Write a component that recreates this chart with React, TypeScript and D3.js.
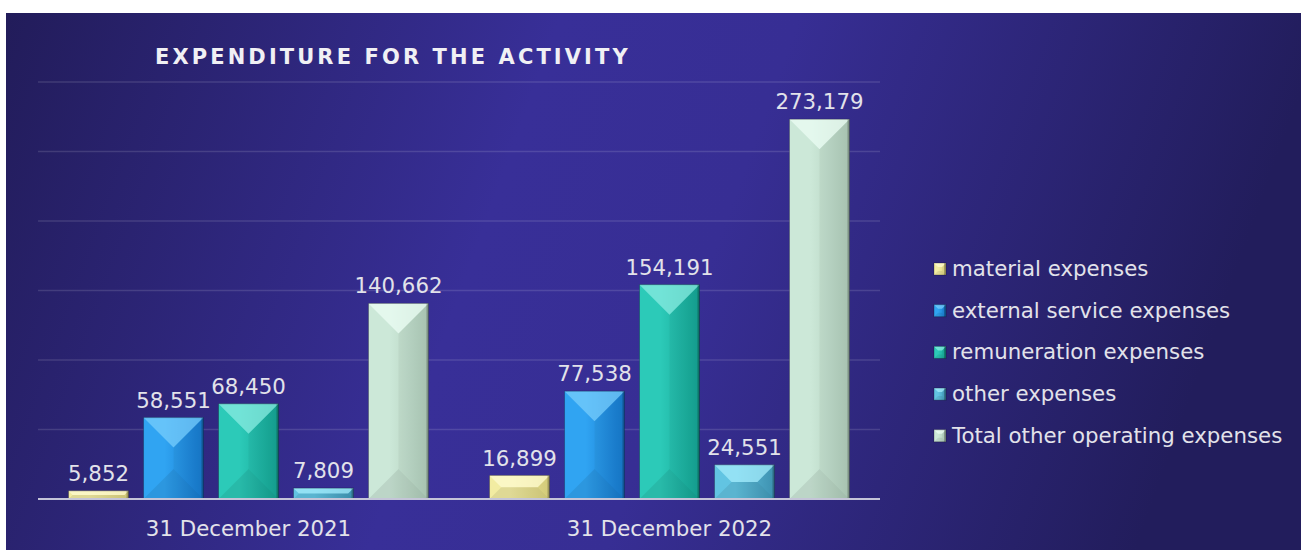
import React from "react";
import * as d3 from "d3";

const categories = ["31 December 2021", "31 December 2022"];
const seriesNames = [
  "material expenses",
  "external service expenses",
  "remuneration expenses",
  "other expenses",
  "Total other operating expenses",
];
const material = [5852, 16899];
const external = [58551, 77538];
const remuneration = [68450, 154191];
const other = [7809, 24551];
const total = [140662, 273179];
const yTicks = [0, 50000, 100000, 150000, 200000, 250000, 300000];

const seriesValues = [material, external, remuneration, other, total];
const palette = [
  { light: "#f2eca2", dark: "#dcd47e", top: "#fffcd4" },
  { light: "#30a4f2", dark: "#1678cc", top: "#7cd0fc" },
  { light: "#2ccab8", dark: "#14a292", top: "#90eee4" },
  { light: "#62c4e2", dark: "#4098b8", top: "#a8eefc" },
  { light: "#cce8d8", dark: "#aecbb8", top: "#eefff6" },
];

const W = 1301;
const H = 550;
const FONT = "Verdana, 'DejaVu Sans', sans-serif";
const FS = 21.3;

function Bevel({ x, y, w, h, i, maxD = 30 }: { x: number; y: number; w: number; h: number; i: number; maxD?: number }) {
  const d = Math.max(0, Math.min(w / 2, h / 2, maxD));
  const p = (pts: number[][]) => pts.map((q) => q.join(",")).join(" ");
  return (
    <g>
      <rect x={x} y={y} width={w} height={h} fill={`url(#face${i})`} />
      <polygon points={p([[x, y], [x + w, y], [x + w - d, y + d], [x + d, y + d]])} fill={palette[i].top} opacity={0.7} />
      <polygon points={p([[x, y + h], [x + w, y + h], [x + w - d, y + h - d], [x + d, y + h - d]])} fill="#000" opacity={0.08} />
      <polygon points={p([[x + w, y], [x + w - d, y + d], [x + w - d, y + h - d], [x + w, y + h]])} fill="#000" opacity={0.04} />
      <rect x={x + w - 2} y={y} width={2} height={h} fill="#000" opacity={0.25} />
      <rect x={x} y={y} width={w} height={h} fill="none" stroke="#000" strokeOpacity={0.25} strokeWidth={1} />
    </g>
  );
}

export default function App() {
  const left = 38;
  const right = 880;
  const x0 = d3.scaleBand<string>().domain(categories).range([left, right]).padding(0);
  const x1 = d3
    .scaleBand<number>()
    .domain(d3.range(seriesNames.length))
    .range([0, x0.bandwidth()])
    .paddingInner(0.2)
    .paddingOuter(0.407);
  const y = d3.scaleLinear().domain([0, 300000]).range([499, 82]);

  return (
    <svg width={W} height={H} style={{ position: "absolute", left: 0, top: 0 }} fontFamily={FONT}>
      <defs>
        <linearGradient id="bg" x1="0" y1="0" x2="1" y2="0.15">
          <stop offset="0" stopColor="#221c5a" />
          <stop offset="0.42" stopColor="#382f98" />
          <stop offset="0.6" stopColor="#372e94" />
          <stop offset="1" stopColor="#221d5c" />
        </linearGradient>
        {palette.map((c, i) => (
          <linearGradient key={i} id={`face${i}`} x1="0" y1="0" x2="1" y2="0">
            <stop offset="0" stopColor={c.light} />
            <stop offset="0.35" stopColor={c.light} />
            <stop offset="1" stopColor={c.dark} />
          </linearGradient>
        ))}
      </defs>
      <rect x={0} y={0} width={W} height={H} fill="#ffffff" />
      <rect x={6} y={13} width={W - 6} height={H - 13} fill="url(#bg)" />

      <text x={155} y={64} fill="#f0f0f4" fontSize={21} fontWeight="bold" letterSpacing={3.1}>
        EXPENDITURE FOR THE ACTIVITY
      </text>

      {yTicks.slice(1).map((t) => (
        <line key={t} x1={left} x2={right} y1={y(t)} y2={y(t)} stroke="#ffffff" strokeOpacity={0.13} strokeWidth={1.5} />
      ))}

      {categories.map((cat, ci) => (
        <g key={cat}>
          {seriesValues.map((vals, si) => {
            const bx = (x0(cat) as number) + (x1(si) as number);
            const bw = x1.bandwidth();
            const by = y(vals[ci]);
            const bh = y(0) - by;
            return (
              <g key={si}>
                <Bevel x={bx} y={by} w={bw} h={bh} i={si} />
                <text x={bx + bw / 2} y={by - 10} textAnchor="middle" fill="#e2e2ea" fontSize={FS}>
                  {d3.format(",")(vals[ci])}
                </text>
              </g>
            );
          })}
          <text
            x={(x0(cat) as number) + x0.bandwidth() / 2}
            y={536}
            textAnchor="middle"
            fill="#e2e2ea"
            fontSize={FS}
          >
            {cat}
          </text>
        </g>
      ))}

      <line x1={left} x2={right} y1={y(0)} y2={y(0)} stroke="#c4c4d8" strokeWidth={2} />

      {seriesNames.map((name, i) => {
        const ly = 269 + i * 41.7;
        return (
          <g key={name}>
            <Bevel x={934} y={ly - 6} w={12} h={12} i={i} maxD={4} />
            <text x={952} y={ly + 7} fill="#e2e2ea" fontSize={FS}>
              {name}
            </text>
          </g>
        );
      })}
    </svg>
  );
}
